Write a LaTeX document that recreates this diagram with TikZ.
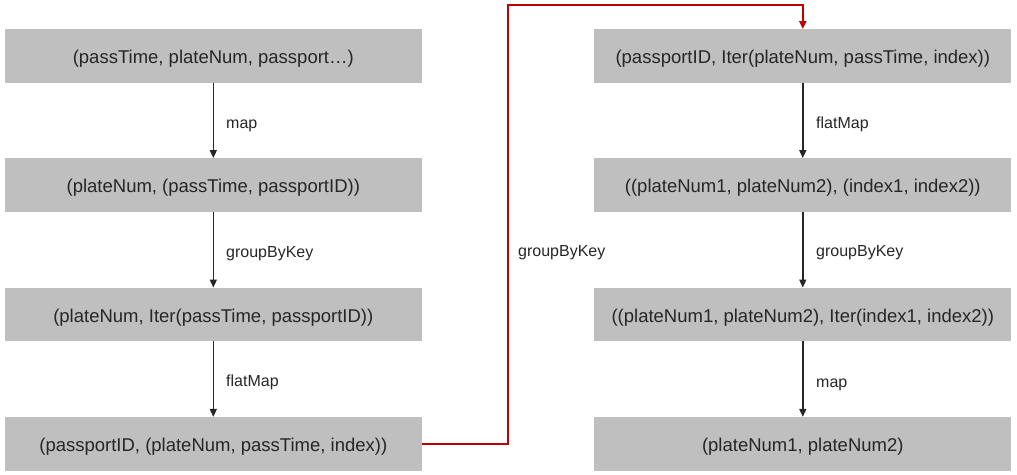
\documentclass[tikz,border=0pt]{standalone}
\usepackage{fontspec}
\setmainfont{Liberation Sans}
\usetikzlibrary{arrows.meta}
\definecolor{boxgray}{HTML}{BFBFBF}
\definecolor{txt}{HTML}{262626}
\definecolor{redline}{HTML}{C00000}
\begin{document}
\begin{tikzpicture}[x=1pt,y=-1pt,
  box/.style={fill=boxgray, draw=none, minimum width=417pt, minimum height=53.5pt, inner sep=0pt,
    text height=19pt, text depth=3.9pt,
    text=txt, font=\fontsize{18.5}{20}\selectfont},
  lbl/.style={text=txt, font=\fontsize{16}{18}\selectfont, anchor=base west, inner sep=0pt},
  flow/.style={draw=txt, line width=1.5pt, -{Triangle[length=8pt,width=7pt]}},
  redflow/.style={draw=redline, line width=2pt, -{Triangle[length=8pt,width=7pt]}}]
\useasboundingbox (0,0) rectangle (1017,474);
% left column
\node[box] (l1) at (213.3,56) {(passTime, plateNum, passport…)};
\node[box] (l2) at (213.3,185) {(plateNum, (passTime, passportID))};
\node[box] (l3) at (213.3,314.5) {(plateNum, Iter(passTime, passportID))};
\node[box] (l4) at (213.3,443.8) {(passportID, (plateNum, passTime, index))};
% right column
\node[box] (r1) at (802.8,56) {(passportID, Iter(plateNum, passTime, index))};
\node[box] (r2) at (802.8,185) {((plateNum1, plateNum2), (index1, index2))};
\node[box] (r3) at (802.8,314.5) {((plateNum1, plateNum2), Iter(index1, index2))};
\node[box] (r4) at (802.8,443.8) {(plateNum1, plateNum2)};
% connectors
\draw[flow] (l1.south) -- (l2.north);
\draw[flow] (l2.south) -- (l3.north);
\draw[flow] (l3.south) -- (l4.north);
\draw[flow] (r1.south) -- (r2.north);
\draw[flow] (r2.south) -- (r3.north);
\draw[flow] (r3.south) -- (r4.north);
\coordinate (turn) at (508,5);
\draw[redflow] (l4.east) -| (turn) -| (r1.north);
% labels
\node[lbl] (m1) at (226,128.5) {map};
\node[lbl] (m2) at (226,257) {groupByKey};
\node[lbl] (m3) at (226,386) {flatMap};
\node[lbl] (m4) at (816,128) {flatMap};
\node[lbl] (m5) at (816,256.5) {groupByKey};
\node[lbl] (m6) at (816,387) {map};
\node[lbl] (m7) at (518,256.5) {groupByKey};
\end{tikzpicture}
\end{document}
